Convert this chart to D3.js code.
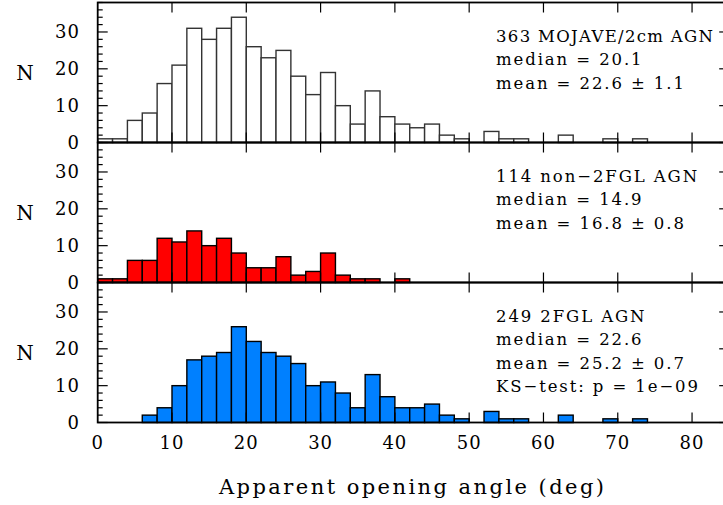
<!DOCTYPE html>
<html><head><meta charset="utf-8">
<script src="https://cdn.jsdelivr.net/npm/d3@7"></script>
<style>body{margin:0;background:#fff}svg{display:block}text{font-family:"DejaVu Serif",serif;fill:#000}</style>
</head><body>
<script>
// bin left edges (deg), bin width 2
const binEdges = d3.range(0, 74, 2);
const allAGN   = [1,1,6,8,16,21,31,28,31,34,26,23,25,18,13,19,10,5,14,7,5,4,5,2,1,0,3,1,1,0,0,2,0,0,1,0,1];
const non2FGL  = [1,1,6,6,12,11,14,10,12,8,4,4,7,2,3,8,2,1,1,0,1,0,0,0,0,0,0,0,0,0,0,0,0,0,0,0,0];
const fgl2     = [0,0,0,2,4,10,17,18,19,26,22,19,18,16,10,11,8,4,13,7,4,4,5,2,1,0,3,1,1,0,0,2,0,0,1,0,1];
const xTicks = [0,10,20,30,40,50,60,70,80];
const yTicks = [0,10,20,30];
const labels1 = ["363 MOJAVE/2cm AGN","median = 20.1","mean = 22.6 \u00b1 1.1"];
const labels2 = ["114 non\u22122FGL AGN","median = 14.9","mean = 16.8 \u00b1 0.8"];
const labels3 = ["249 2FGL AGN","median = 22.6","mean = 25.2 \u00b1 0.7","KS\u2212test: p = 1e\u221209"];
const xTitle = "Apparent opening angle (deg)";

const W = 723, H = 505;
const svg = d3.select("body").append("svg").attr("width", W).attr("height", H);
const x = d3.scaleLinear().domain([0, 85]).range([97.7, 729.2]);
const panelTop = [2.5, 142.5, 282.5], panelH = 140;
const panels = [
  {data: allAGN, fill: "#ffffff", stroke: "#333", labels: labels1},
  {data: non2FGL, fill: "#ff0000", stroke: "#000", labels: labels2},
  {data: fgl2, fill: "#0080ff", stroke: "#000", labels: labels3}
];

panels.forEach((p, i) => {
  const top = panelTop[i];
  const y = d3.scaleLinear().domain([0, 38]).range([top + panelH, top]);
  const g = svg.append("g");
  const bins = binEdges.map((e, k) => ({x0: e, x1: e + 2, v: p.data[k]})).filter(d => d.v > 0);
  g.selectAll("rect").data(bins).join("rect")
    .attr("x", d => x(d.x0)).attr("width", d => x(d.x1) - x(d.x0))
    .attr("y", d => y(d.v)).attr("height", d => y(0) - y(d.v))
    .attr("fill", p.fill).attr("stroke", p.stroke).attr("stroke-width", 1.4);
  const minor = d3.range(0, 39, 2);
  g.selectAll("line.yl").data(minor).join("line")
    .attr("x1", x(0)).attr("x2", d => x(0) + (d % 10 === 0 ? 10 : 5))
    .attr("y1", d => y(d)).attr("y2", d => y(d)).attr("stroke", "#000").attr("stroke-width", 1.2);
  g.selectAll("line.yr").data(minor).join("line")
    .attr("x1", x(85)).attr("x2", d => x(85) - (d % 10 === 0 ? 10 : 5))
    .attr("y1", d => y(d)).attr("y2", d => y(d)).attr("stroke", "#000").attr("stroke-width", 1.2);
  g.selectAll("text.yt").data(yTicks).join("text")
    .attr("x", 80).attr("y", d => y(d) + 6.5).attr("text-anchor", "end")
    .attr("font-size", 18).attr("letter-spacing", 1).text(d => d);
  g.append("text").attr("x", 25).attr("y", top + panelH / 2 + 7.5).attr("text-anchor", "middle")
    .attr("font-size", 20).text("N");
  g.selectAll("line.xt").data(xTicks.slice(1)).join("line")
    .attr("x1", d => x(d)).attr("x2", d => x(d)).attr("y1", top).attr("y2", top + 10)
    .attr("stroke", "#000").attr("stroke-width", 1.2);
  g.selectAll("line.xb").data(xTicks.slice(1)).join("line")
    .attr("x1", d => x(d)).attr("x2", d => x(d)).attr("y1", top + panelH).attr("y2", top + panelH - 10)
    .attr("stroke", "#000").attr("stroke-width", 1.2);
  const ann = g.selectAll("text.ann").data(p.labels).join("text")
    .attr("x", 496).attr("y", (d, k) => top + 39.5 + k * 23.3)
    .attr("font-size", 16.5).attr("letter-spacing", 1.9).text(d => d);
  if (i === 0) ann.filter((d, k) => k === 0).attr("letter-spacing", null)
    .attr("textLength", 217).attr("lengthAdjust", "spacing");
  g.append("rect").attr("x", x(0)).attr("y", top).attr("width", x(85) - x(0)).attr("height", panelH)
    .attr("fill", "none").attr("stroke", "#000").attr("stroke-width", 1.8);
});

const bottom = panelTop[2] + panelH;
svg.selectAll("text.xl").data(xTicks).join("text")
  .attr("x", d => x(d)).attr("y", bottom + 26).attr("text-anchor", "middle")
  .attr("font-size", 18).attr("letter-spacing", 1).text(d => d);
svg.append("text").attr("x", 411.5).attr("y", bottom + 71).attr("text-anchor", "middle")
  .attr("font-size", 21).attr("textLength", 385).attr("lengthAdjust", "spacing").text(xTitle);
</script>
</body></html>
